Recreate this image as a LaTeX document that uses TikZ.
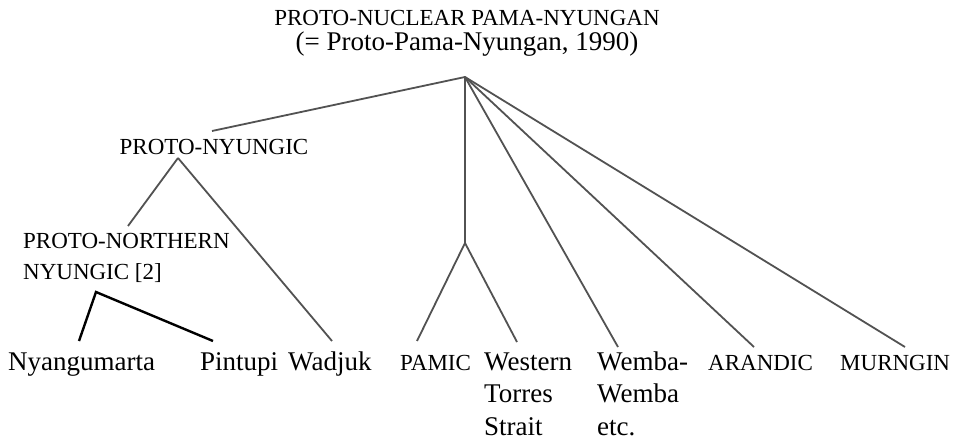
\documentclass[tikz,border=0pt]{standalone}
\usepackage{fontspec}
\setmainfont{Liberation Serif}
\newcommand\capsize{\fontsize{23}{31}\selectfont}
\newcommand\normsize{\fontsize{27}{32.5}\selectfont}
\begin{document}
\begin{tikzpicture}[x=1pt,y=-1pt,
  caps/.style={font=\capsize,inner sep=0pt,align=left},
  norm/.style={font=\normsize,inner sep=0pt,align=left},
  branch/.style={draw=black!68,line width=1.8pt},
  darkbranch/.style={draw=black,line width=2.4pt}]
\useasboundingbox[fill=white] (0,0) rectangle (958,441);
% titles
\node[caps,anchor=base] (t1) at (467,26) {PROTO-NUCLEAR PAMA-NYUNGAN};
\node[norm,anchor=base] (t2) at (467,51) {(= Proto-Pama-Nyungan, 1990)};
% intermediate labels
\node[caps,anchor=base] (pn) at (214,154) {PROTO-NYUNGIC};
\node[caps,anchor=base west] (pnn) at (23,279) {PROTO-NORTHERN\\NYUNGIC [2]};
% leaves
\node[norm,anchor=base west] (nya) at (8,370) {Nyangumarta};
\node[norm,anchor=base west] (pin) at (200,370) {Pintupi};
\node[norm,anchor=base west] (wad) at (288,370) {Wadjuk};
\node[caps,anchor=base west] (pam) at (400,370) {PAMIC};
\node[norm,anchor=base west] (wes) at (484,435) {Western\\Torres\\Strait};
\node[norm,anchor=base west] (wem) at (597,435) {Wemba-\\Wemba\\etc.};
\node[caps,anchor=base west] (ara) at (708,370) {ARANDIC};
\node[caps,anchor=base west] (mur) at (840,370) {MURNGIN};
% branch points
\coordinate (root) at (465,77);
\coordinate (pnUp) at (212,131);
\coordinate (pnDown) at (178,158);
\coordinate (pnnUp) at (128,226);
\coordinate (pnnDown) at (96,292);
\coordinate (nyaUp) at (79,341);
\coordinate (pinUp) at (213,341);
\coordinate (wadUp) at (332,341);
\coordinate (pamJ) at (465,243);
\coordinate (pamUp) at (417,341);
\coordinate (wesUp) at (517,342);
\coordinate (wemUp) at (618,347);
\coordinate (araUp) at (754,347);
\coordinate (murUp) at (905,347);
% connectors
\draw[branch] (root) -- (pnUp);
\draw[branch] (root) -- (pamJ);
\draw[branch] (root) -- (wemUp);
\draw[branch] (root) -- (araUp);
\draw[branch] (root) -- (murUp);
\draw[branch] (pamJ) -- (pamUp);
\draw[branch] (pamJ) -- (wesUp);
\draw[branch] (pnDown) -- (pnnUp);
\draw[branch] (pnDown) -- (wadUp);
\draw[darkbranch] (nyaUp) -- (pnnDown) -- (pinUp);
\end{tikzpicture}
\end{document}
